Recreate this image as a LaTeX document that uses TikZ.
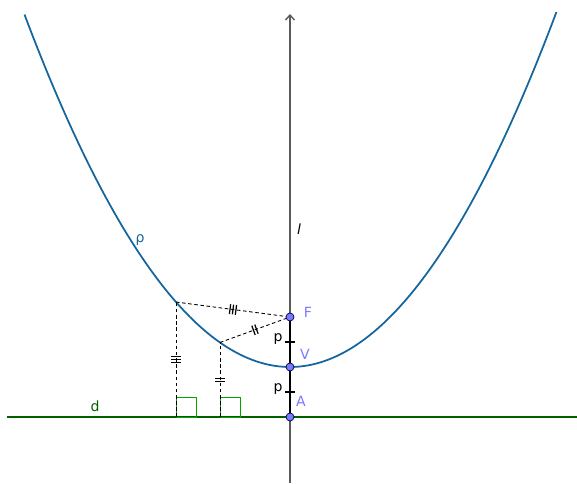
\documentclass[tikz,border=0pt]{standalone}
\usepackage{fontspec}
\setmainfont{DejaVu Sans}
\usetikzlibrary{
  arrows.meta,
  calc,
  decorations.markings
}
\definecolor{CurveBlue}{RGB}{21,101,158}
\definecolor{PointBlue}{RGB}{122,122,255}
\definecolor{LineGreen}{RGB}{0,96,0}
\definecolor{RightGreen}{RGB}{0,165,0}
\definecolor{AxisGray}{RGB}{90,90,90}
\tikzset{
  curve/.style={draw=CurveBlue,line width=1pt},
  axisline/.style={-{Straight Barb[length=1mm,width=1.8mm]},draw=AxisGray,line width=0.8pt},
  directrix/.style={draw=LineGreen,line width=1.1pt},
  focalseg/.style={draw=black,line width=1.3pt},
  dist/.style={dashed,draw=black,line width=0.5pt,dash pattern=on 2pt off 1.5pt},
  rightmark/.style={draw=RightGreen,line width=0.5pt},
  pt/.style={circle,fill=PointBlue,draw=black!70!blue,line width=0.4pt,inner sep=0pt,minimum size=1.6mm},
  ptlabel/.style={text=PointBlue,font=\fontsize{8}{9}\selectfont},
  lbl/.style={font=\fontsize{8}{9}\selectfont},
  tick/.style={solid,line width=0.7pt},
  twoticks/.style={postaction={decorate},decoration={markings,mark=at position 0.5 with {
    \draw[tick] (-0.9pt,-2.8pt) -- (-0.9pt,2.8pt);
    \draw[tick] (0.9pt,-2.8pt) -- (0.9pt,2.8pt);}}},
  threeticks/.style={postaction={decorate},decoration={markings,mark=at position 0.5 with {
    \draw[tick] (-1.7pt,-2.8pt) -- (-1.7pt,2.8pt);
    \draw[tick] (0pt,-2.8pt) -- (0pt,2.8pt);
    \draw[tick] (1.7pt,-2.8pt) -- (1.7pt,2.8pt);}}}
}

\begin{document}
\begin{tikzpicture}
\useasboundingbox (-5.8,-1.32) rectangle (5.74,8.34);

% directrix and axis
\coordinate (dl) at (-5.66,0);
\coordinate (dr) at (5.74,0);
\coordinate (lb) at (0,-1.32);
\coordinate (lt) at (0,8.06);
\draw[directrix] (dl) -- (dr);
\draw[axisline] (lb) -- (lt);

% parabola
\draw[curve] plot[domain=-5.31:5.33,samples=120] (\x,{1+\x*\x/4});

% points
\coordinate (A) at (0,0);
\coordinate (V) at (0,1);
\coordinate (F) at (0,2);
\coordinate (P1) at (-2.28,{1+2.28*2.28/4});
\coordinate (P2) at (-1.4,{1+1.4*1.4/4});
\coordinate (H1) at (-2.28,0);
\coordinate (H2) at (-1.4,0);

\draw[focalseg] (A) -- (F);
\draw[line width=0.7pt] (-0.1,0.5) -- (0.1,0.5);
\draw[line width=0.7pt] (-0.1,1.5) -- (0.1,1.5);

% right angles
\draw[rightmark] (H1) rectangle ++(0.4,0.4);
\draw[rightmark] (H2) rectangle ++(0.4,0.4);

% equal distances
\draw[dist,threeticks] (P1) -- (F);
\draw[dist,threeticks] (H1) -- (P1);
\draw[dist,twoticks] (P2) -- (F);
\draw[dist,twoticks] (H2) -- (P2);

\node[pt] (a) at (A) {};
\node[pt] (v) at (V) {};
\node[pt] (f) at (F) {};

\node[ptlabel] at (0.36,2.1) {F};
\node[ptlabel] at (0.3,1.26) {V};
\node[ptlabel] at (0.22,0.32) {A};
\node[lbl] at (-0.24,1.56) {p};
\node[lbl] at (-0.24,0.56) {p};
\node[lbl] at (0.18,3.76) {\itshape l};
\node[lbl,text=CurveBlue] at (-3.0,3.54) {ρ};
\node[lbl,text=LineGreen] at (-3.9,0.22) {d};
\end{tikzpicture}
\end{document}
